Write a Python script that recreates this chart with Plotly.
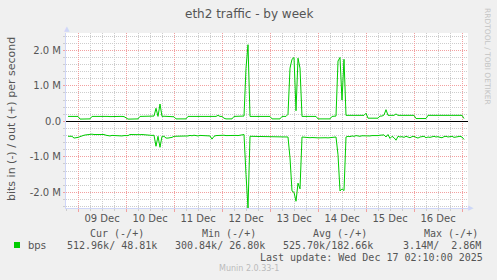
import pandas as pd
import plotly.graph_objects as go

# ---------------- data (hourly, kbit/s), Dec 8 19:00 .. Dec 17 01:00 ----------------
start_time = "2025-12-08 19:00"
out_k = [140,140,135,140,140,140,
         65,65,65,65,65,70,
         140,145,140,135,140,140,145,140,140,135,140,140,145,140,140,140,135,
         100,65,
         65,65,65,65,70,
         140,140,145,140,140,145,140,150,
         370,140,490,
         140,145,140,140,140,140,
         130,70,
         70,70,70,70,70,
         140,140,145,140,140,140,145,140,140,140,135,140,145,140,140,170,140,140,
         90,
         70,70,70,70,
         140,140,140,145,140,150,
         1500,2160,
         140,140,140,140,140,140,140,140,140,140,140,
         70,70,70,70,70,
         140,140,140,
         200,1500,1750,1800,300,1780,1500,140,
         140,140,140,145,140,140,140,
         70,70,70,70,70,70,70,
         140,140,150,
         1700,1800,600,1750,170,
         170,170,170,175,170,170,170,165,170,
         230,
         90,90,90,90,90,90,
         150,150,
         180,330,
         170,175,170,170,
         210,
         170,170,170,170,165,170,170,170,170,
         80,80,80,80,80,80,
         170,170,175,170,170,165,170,170,170,175,170,170,165,170,170,170,175,170,
         80]
in_k = [420,420,420,
        470,470,
        450,430,400,390,380,370,380,360,370,370,380,360,370,370,
        390,400,410,395,400,405,390,400,410,400,395,400,
        370,375,370,365,370,375,370,370,
        390,385,390,395,390,
        700,420,730,
        420,420,
        470,470,470,450,
        420,420,415,420,420,420,
        400,410,395,405,390,400,410,395,400,405,390,400,410,
        500,420,
        400,395,400,405,390,400,395,400,405,400,395,400,390,380,
        370,
        1500,2440,
        420,420,420,420,420,420,420,420,420,
        440,440,440,440,440,440,440,440,440,440,440,
        1030,1960,2000,2250,1740,1900,440,
        450,460,455,460,455,450,460,465,460,455,460,460,465,460,455,460,440,
        940,1960,1900,1950,440,
        420,430,410,420,400,410,420,405,410,400,420,410,400,405,410,400,
        390,390,
        380,440,370,480,420,460,530,
        420,440,430,450,420,440,460,430,420,450,470,440,430,420,460,440,450,
        430,420,440,430,450,460,430,420,440,430,420,450,440,430,420,440,
        510]

day_ticks = ["2025-12-09", "2025-12-10", "2025-12-11", "2025-12-12", "2025-12-13",
             "2025-12-14", "2025-12-15", "2025-12-16", "2025-12-17"]
day_labels = ["09 Dec", "10 Dec", "11 Dec", "12 Dec", "13 Dec",
              "14 Dec", "15 Dec", "16 Dec", ""]
y_ticks = [-2e6, -1e6, 0, 1e6, 2e6]
y_labels = ["-2.0 M", "-1.0 M", "0.0", "1.0 M", "2.0 M"]

legend_headers = ["Cur (-/+)", "Min (-/+)", "Avg (-/+)", "Max (-/+)"]
legend_values = ["512.96k/ 48.81k", "300.84k/ 26.80k", "525.70k/182.66k", "  3.14M/  2.86M"]
series_name = "bps"
last_update = "Last update: Wed Dec 17 02:10:00 2025"
title = "eth2 traffic - by week"
y_title = "bits in (-) / out (+) per second"

# ---------------- figure ----------------
W, H = 497, 280
L, R, T, B = 66, 468, 33, 208

def px(x):
    return (x - L) / (R - L)

def py(y):
    return (B - y) / (B - T)

times = pd.date_range(start_time, periods=len(out_k), freq="h")
green = "#00CC00"
font_col = "#555555"
major_col = "#F2A0A0"
minor_col = "#CDCDCD"
axis_col = "#CFD6F8"

fig = go.Figure()
fig.add_trace(go.Scatter(x=times, y=[v * 1000 for v in out_k], mode="lines",
                         line=dict(color=green, width=1), hoverinfo="skip"))
fig.add_trace(go.Scatter(x=times, y=[-v * 1000 for v in in_k], mode="lines",
                         line=dict(color=green, width=1), hoverinfo="skip"))

fig.update_layout(
    width=W, height=H,
    margin=dict(l=L, r=W - R, t=T, b=H - B, pad=0),
    paper_bgcolor="#F0F0F0", plot_bgcolor="#FFFFFF",
    showlegend=False,
    font=dict(family="DejaVu Sans", size=10, color=font_col),
)
fig.update_xaxes(
    type="date", range=["2025-12-08 18:00", "2025-12-17 03:00"],
    tickmode="array", tickvals=day_ticks, ticktext=day_labels,
    ticklabelshift=24, ticklabelstandoff=-2, ticks="outside", ticklen=3, tickcolor=major_col,
    showgrid=True, gridcolor=major_col, griddash="1px,1px", gridwidth=1,
    showline=True, linecolor=axis_col, linewidth=1,
    zeroline=False,
    tickfont=dict(family="DejaVu Sans", size=10, color=font_col),
    minor=dict(dtick=6 * 3600 * 1000, tick0="2025-12-09", showgrid=True,
               gridcolor=minor_col, griddash="1px,1px", ticks="outside",
               ticklen=2, tickcolor=minor_col),
)
fig.update_yaxes(
    range=[-2.44e6, 2.49e6],
    tickmode="array", tickvals=y_ticks, ticktext=y_labels,
    ticks="outside", ticklen=2, tickcolor=major_col,
    showgrid=True, gridcolor=major_col, griddash="1px,1px", gridwidth=1,
    showline=True, linecolor=axis_col, linewidth=1,
    zeroline=True, zerolinecolor="#000000", zerolinewidth=1,
    tickfont=dict(family="DejaVu Sans", size=10, color=font_col),
    minor=dict(dtick=0.2e6, tick0=0, showgrid=True, gridcolor=minor_col,
               griddash="1px,1px", ticks="outside", ticklen=2, tickcolor=minor_col),
)

ann = []
def text(x, y, s, size=10, color=font_col, family="DejaVu Sans", xanchor="left", angle=0):
    ann.append(dict(x=px(x), y=py(y), xref="paper", yref="paper", text=s,
                    showarrow=False, xanchor=xanchor, yanchor="middle",
                    textangle=angle, borderpad=0,
                    font=dict(family=family, size=size, color=color)))

nb = lambda s: s.replace(" ", "\u00a0")
mono = "DejaVu Sans Mono"

text(248.5, 14, title, size=12, xanchor="center")
text(11, 119, y_title, size=11, xanchor="center", angle=-90)
text(488, 56, "RRDTOOL / TOBI OETIKER", size=7.5, color="#C4C4C4", xanchor="center", angle=90)
text(66.5, 29, "\u25B2", size=7, color=axis_col, xanchor="center")
text(471, 208, "\u25B6", size=7, color=axis_col, xanchor="center")

for x0, h in zip([88.5, 201, 312, 422.5], legend_headers):
    text(x0, 233, nb(h), family=mono)
for x0, v in zip([66, 174, 282, 390], legend_values):
    text(x0, 245, nb(v), family=mono)
text(27, 245, series_name)
text(484, 257, nb(last_update), family=mono, xanchor="right")
text(248.5, 268, "Munin 2.0.33-1", size=8, color="#BBBBBB", xanchor="center")

fig.update_layout(annotations=ann)
fig.add_shape(type="rect", xref="paper", yref="paper",
              x0=px(14), x1=px(20), y0=py(248), y1=py(242),
              fillcolor=green, line=dict(width=0))

fig.write_html("out.html")
